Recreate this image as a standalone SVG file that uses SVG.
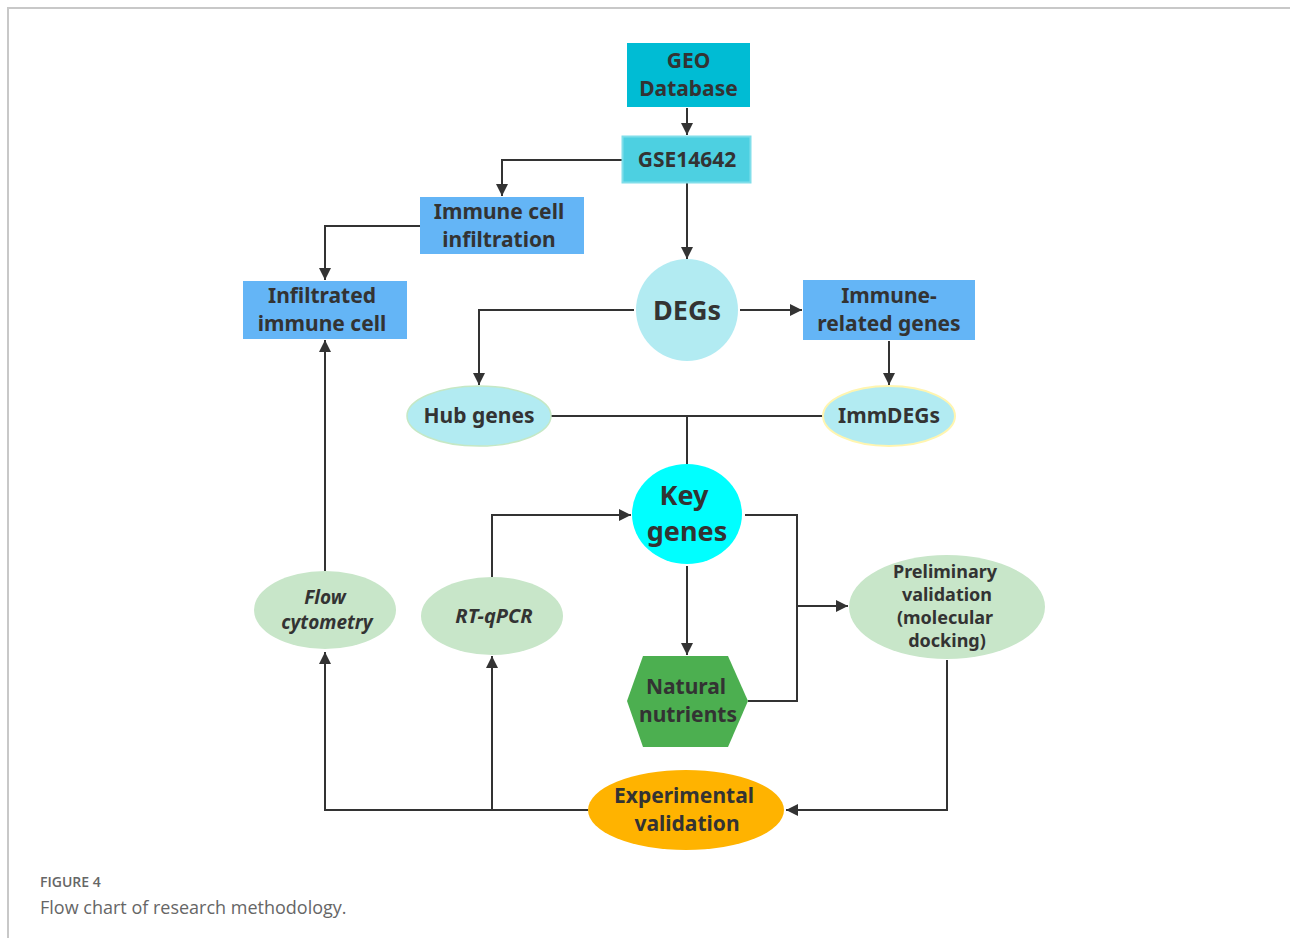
<svg xmlns="http://www.w3.org/2000/svg" width="1290" height="938" viewBox="0 0 1290 938">
<defs>
<marker id="arr" viewBox="0 0 10 10" refX="10" refY="5" markerWidth="6" markerHeight="6" orient="auto" markerUnits="strokeWidth">
<path d="M0,0 L10,5 L0,10 Z" fill="#333"/>
</marker>
</defs>
<style>
.t{font-family:"Noto Sans","Open Sans","Liberation Sans",sans-serif;font-weight:bold;fill:#333;text-anchor:middle}
.c{fill:none;stroke:#333;stroke-width:2}
.a{marker-end:url(#arr)}
.blue{fill:#64b5f6}
.green{fill:#c8e6c9}
</style>
<rect width="1290" height="938" fill="#fff"/>
<path d="M8,938 V8 H1290" fill="none" stroke="#c8c8c8" stroke-width="2"/>

<g id="connectors">
<path class="c a" d="M687,108 V135"/>
<path class="c a" d="M622,160 H502 V196"/>
<path class="c a" d="M420,226 H325 V280"/>
<path class="c a" d="M687,183 V259"/>
<path class="c a" d="M740,310 H802"/>
<path class="c a" d="M634,310 H479 V385"/>
<path class="c a" d="M889,341 V385"/>
<path class="c" d="M551,416 H823"/>
<path class="c" d="M687,416 V464"/>
<path class="c a" d="M492,577 V515 H631"/>
<path class="c" d="M745,515 H797 V701 H748"/>
<path class="c a" d="M797,606 H848"/>
<path class="c a" d="M687,566 V655"/>
<path class="c a" d="M947,660 V810 H786"/>
<path class="c a" d="M588,810 H325 V652"/>
<path class="c a" d="M492,810 V656"/>
<path class="c a" d="M325,571 V340"/>
</g>

<g id="geo">
<rect x="627" y="43" width="123" height="64" fill="#00bcd4"/>
<text class="t" x="688.5" y="68" font-size="21">GEO</text>
<text class="t" x="688.5" y="96" font-size="21">Database</text>
</g>
<g id="gse">
<rect x="622.5" y="136.5" width="128" height="46" fill="#4dd0e1" stroke="#80deea" stroke-width="2"/>
<text class="t" x="687" y="167" font-size="21">GSE14642</text>
</g>
<g id="immune-infiltration">
<rect x="420" y="197" width="164" height="57" class="blue"/>
<text class="t" x="499" y="219" font-size="21">Immune cell</text>
<text class="t" x="499" y="247" font-size="21">infiltration</text>
</g>
<g id="infiltrated">
<rect x="243" y="281" width="164" height="58" class="blue"/>
<text class="t" x="322" y="303" font-size="21">Infiltrated</text>
<text class="t" x="322" y="331" font-size="21">immune cell</text>
</g>
<g id="degs">
<circle cx="687" cy="310" r="51" fill="#b2ebf2"/>
<text class="t" x="687" y="320" font-size="27">DEGs</text>
</g>
<g id="immune-related">
<rect x="803" y="280" width="172" height="60" class="blue"/>
<text class="t" x="889" y="303" font-size="21">Immune-</text>
<text class="t" x="889" y="331" font-size="21">related genes</text>
</g>
<g id="hub">
<ellipse cx="479" cy="416" rx="72" ry="30" fill="#b2ebf2" stroke="#c5e8c5" stroke-width="1.5"/>
<text class="t" x="479" y="423" font-size="21">Hub genes</text>
</g>
<g id="immdegs">
<ellipse cx="889" cy="416" rx="66" ry="30" fill="#b2ebf2" stroke="#fff5b0" stroke-width="2"/>
<text class="t" x="889" y="423" font-size="21">ImmDEGs</text>
</g>
<g id="key">
<ellipse cx="687" cy="514" rx="55" ry="50" fill="#00ffff"/>
<text class="t" x="684" y="505" font-size="27">Key</text>
<text class="t" x="687" y="541" font-size="27">genes</text>
</g>
<g id="flow">
<ellipse cx="325" cy="610" rx="71" ry="39" class="green"/>
<text class="t" x="325" y="604" font-size="19" font-style="italic">Flow</text>
<text class="t" x="327" y="629" font-size="19" font-style="italic">cytometry</text>
</g>
<g id="rtqpcr">
<ellipse cx="492" cy="616" rx="71" ry="39" class="green"/>
<text class="t" x="494" y="623" font-size="20" font-style="italic">RT-qPCR</text>
</g>
<g id="natural">
<polygon points="643,656 728,656 748,701 728,747 643,747 627,701" fill="#4caf50"/>
<text class="t" x="686" y="694" font-size="21">Natural</text>
<text class="t" x="688" y="722" font-size="21">nutrients</text>
</g>
<g id="preliminary">
<ellipse cx="947" cy="607" rx="98" ry="52" class="green"/>
<text class="t" x="945" y="578" font-size="18">Preliminary</text>
<text class="t" x="947" y="601" font-size="18">validation</text>
<text class="t" x="945" y="624" font-size="18">(molecular</text>
<text class="t" x="947" y="647" font-size="18">docking)</text>
</g>
<g id="experimental">
<ellipse cx="686" cy="810" rx="98" ry="40" fill="#ffb300"/>
<text class="t" x="684" y="803" font-size="21">Experimental</text>
<text class="t" x="687" y="831" font-size="21">validation</text>
</g>

<text x="40" y="887" font-family="'Open Sans','Noto Sans',sans-serif" font-size="14" font-weight="600" fill="#666">FIGURE 4</text>
<text x="40" y="914" font-family="'Open Sans','Noto Sans',sans-serif" font-size="18" fill="#666">Flow chart of research methodology.</text>
</svg>
